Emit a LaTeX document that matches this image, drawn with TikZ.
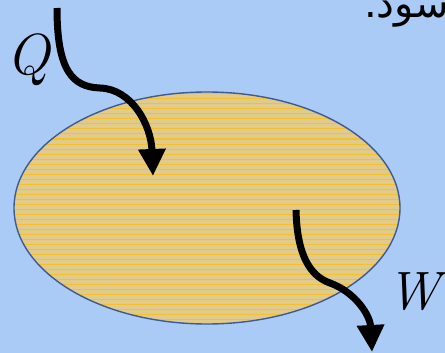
\documentclass[tikz,border=0pt]{standalone}
\usepackage{fontspec}
\usepackage{xcolor}
\usepackage{tikz}
\usetikzlibrary{arrows.meta,positioning,shapes.geometric}
\newfontfamily\arabicfont[Script=Arabic]{DejaVu Sans}
\TeXXeTstate=1
\definecolor{skyback}{RGB}{171,203,247}
\definecolor{sandfill}{RGB}{224,203,140}
\definecolor{goldline}{RGB}{245,192,45}
\definecolor{rimblue}{RGB}{60,90,150}

\begin{document}
\begin{tikzpicture}[x=1pt, y=-1pt,
  flow/.style={line width=7pt, -{Triangle[length=27pt,width=26pt]}},
  sym/.style={font=\fontsize{58}{62}\selectfont\itshape, inner sep=0pt},
  stripe/.style={goldline, line width=1pt}
]
  \fill[skyback] (0,0) rectangle (445,353);
  \useasboundingbox (0,0) rectangle (445,353);
  \clip (0,0) rectangle (445,353);
  % system
  \node[ellipse, draw=rimblue, line width=1.4pt, fill=sandfill, inner sep=0pt,
    minimum width=386pt, minimum height=232pt,
    path picture={
      \foreach \k in {0,...,48}
        \draw[stripe] ([yshift=\k*5pt]path picture bounding box.south west)
          -- ([yshift=\k*5pt]path picture bounding box.south east);
    }] (system) at (207,208) {};
  \node[sym] (qlabel) at (28,60) {Q};
  \node[sym, anchor=east, font=\fontsize{54}{58}\selectfont\itshape] (wlabel) at (440,292) {W};
  \node[anchor=base west, inner sep=0pt, font=\fontsize{40}{44}\selectfont] (note) at (364,18) {\arabicfont\beginR سود.\endR};
  \coordinate (qin) at (57,8);
  \coordinate (qmid) at (100,88);
  \coordinate (qtip) at (153,176);
  \coordinate (win) at (296,210);
  \coordinate (wmid) at (330,283);
  \coordinate (wtip) at (372,352);
  \draw[flow] (qin) .. controls (57,70) and (72,87) .. (qmid) .. controls (132,89) and (151,125) .. (qtip);
  \draw[flow] (win) .. controls (297,255) and (310,276) .. (wmid) .. controls (355,292) and (370,315) .. (wtip);
\end{tikzpicture}
\end{document}
